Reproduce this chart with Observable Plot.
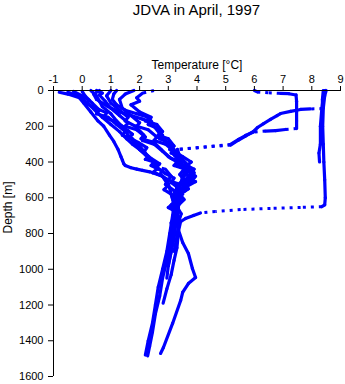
<!DOCTYPE html>
<html><head><meta charset="utf-8">
<script src="https://cdn.jsdelivr.net/npm/d3@7"></script>
<script src="https://cdn.jsdelivr.net/npm/@observablehq/plot@0.6"></script>
<style>
body{margin:0;background:#fff;font-family:"Liberation Sans",Arial,sans-serif;}
#wrap{position:relative;width:345px;height:384px;overflow:hidden;}
#title{position:absolute;top:1px;left:53px;width:287px;text-align:center;font-size:15px;line-height:18px;color:#000;}
#wrap svg{position:absolute;top:0;left:0;}
</style></head><body>
<div id="wrap"><div id="title">JDVA in April, 1997</div></div>
<script>
// Axis domains, tick labels and axis titles
const tempDomain = [-1, 9];
const depthDomain = [0, 1600];
const tempTicks = [-1, 0, 1, 2, 3, 4, 5, 6, 7, 8, 9];
const depthTicks = [0, 200, 400, 600, 800, 1000, 1200, 1400, 1600];
const xLabel = "Temperature [°C]";
const yLabel = "Depth [m]";

// CTD profiles: [temperature °C, depth m]
const c1 = [[-0.8,10],[-0.5,20],[-0.1,40],[0.05,70],[0.3,120],[0.55,170],[0.75,200],[0.95,250],[1.1,285],[1.25,330],[1.35,370],[1.4,390],[1.45,410],[1.5,420],[1.7,432],[1.9,440],[2.1,447],[2.35,455],[2.6,466],[2.8,480],[3.0,520],[3.1,580],[3.2,640],[3.15,700],[3.05,800],[2.95,900],[2.8,1000],[2.65,1100],[2.55,1200],[2.45,1300],[2.3,1400],[2.2,1480]];
const c2 = [[-0.3,5],[0.0,30],[0.25,55],[0.15,75],[0.5,100],[0.85,125],[0.75,150],[1.1,170],[1.4,200],[1.6,225],[1.75,245],[1.65,265],[1.95,290],[2.25,320],[2.15,345],[2.4,380],[2.7,410],[2.6,430],[2.9,465],[3.2,490],[3.1,515],[3.35,545],[3.25,575],[3.4,610],[3.2,650],[3.25,690],[3.1,740],[3.15,790],[3.05,850],[2.95,950],[2.8,1050],[2.7,1150],[2.55,1250],[2.45,1350],[2.35,1430],[2.28,1485]];
const c4 = [[0.5,0],[0.7,15],[0.6,25],[0.8,60],[1.0,100],[1.3,140],[1.6,180],[1.5,200],[1.9,220],[2.2,260],[2.1,280],[2.5,300],[2.8,340],[3.1,380],[3.5,400],[3.3,420],[3.75,445],[3.6,470],[3.9,490],[3.55,520],[3.7,550],[3.4,580],[3.55,610],[3.3,650],[3.45,690],[3.35,740],[3.35,800],[3.3,880],[3.2,950],[3.1,1030],[2.95,1110],[2.82,1190]];
const c5 = [[1.0,0],[0.85,30],[1.0,70],[1.3,110],[1.6,150],[1.5,170],[1.85,200],[2.15,250],[2.05,270],[2.5,290],[2.75,330],[3.0,370],[3.3,400],[3.2,420],[3.6,440],[3.85,470],[3.65,490],[3.95,510],[3.6,540],[3.5,570],[3.25,600],[3.4,630],[3.15,660],[3.3,700],[3.25,760],[3.2,830],[3.1,900],[3.0,980],[2.95,1050]];
const c6 = [[1.8,0],[1.5,20],[1.3,50],[1.4,100],[1.7,140],[2.0,180],[1.9,200],[2.3,220],[2.6,260],[2.5,280],[2.9,300],[3.2,340],[3.5,370],[3.8,400],[3.65,420],[3.9,440],[3.7,480],[3.8,510],[3.5,530],[3.6,560],[3.3,590],[3.4,620],[3.25,650],[3.2,700],[3.15,780],[3.05,850]];
const c7 = [[2.5,0],[2.1,15],[1.9,40],[2.0,60],[1.7,80],[2.0,120],[2.4,150],[2.2,170],[2.6,190],[2.8,230],[2.65,250],[3.0,270],[3.2,310],[3.05,330],[3.3,350],[3.5,390],[3.35,410],[3.6,430],[3.4,470],[3.55,500],[3.3,530],[3.4,560],[3.2,600],[3.25,650]];
const c8 = [[0.0,5],[0.1,30],[0.35,70],[0.6,110],[0.5,130],[0.9,150],[1.2,190],[1.5,230],[1.4,250],[1.75,270],[2.0,310],[2.2,350],[2.35,380],[2.6,410],[2.5,425],[2.9,440],[3.1,480],[3.0,500],[3.3,520],[3.4,560],[3.2,585],[3.3,610],[3.1,640],[3.2,660]];
const c9 = [[0.6,0],[0.4,20],[0.5,50],[0.9,90],[1.3,120],[1.7,140],[2.1,160],[2.4,175],[2.3,190],[2.6,210],[2.8,250],[2.7,270],[3.0,290],[3.2,330],[3.1,350],[3.4,370],[3.6,410],[3.5,430],[3.7,450],[3.5,490],[3.6,515],[3.3,540],[3.2,600],[3.35,630],[3.25,660],[3.2,720],[3.15,800],[3.1,900],[3.0,980]];
const c10 = [[0.3,0],[0.5,30],[0.6,60],[0.7,90],[1.0,130],[1.2,170],[1.45,210],[1.6,250],[1.8,290],[2.0,330],[2.3,370],[2.2,385],[2.5,400],[2.6,440],[2.45,460],[2.8,480],[3.0,530],[2.85,555],[3.1,580],[3.2,630],[3.0,655],[3.3,680],[3.25,740]];
const c11 = [[1.2,0],[1.1,20],[1.05,50],[1.2,80],[1.5,110],[1.9,130],[2.3,150],[2.4,170],[2.5,200],[2.7,240],[2.6,260],[2.9,280],[3.1,320],[3.3,360],[3.5,400],[3.4,415],[3.7,430],[3.8,460],[3.95,480],[3.6,500],[3.75,525],[3.4,550],[3.5,580],[3.3,600],[3.35,660],[3.3,720]];
const c12 = [[-0.5,10],[-0.2,25],[0.0,45],[0.25,80],[0.5,120],[0.7,150],[1.0,190],[1.3,230],[1.55,270],[1.75,300],[2.0,330],[2.2,360],[2.5,400],[2.4,420],[2.8,450],[2.7,470],[3.0,500],[2.9,525],[3.2,560],[3.3,620],[3.1,650],[3.2,680],[3.2,750],[3.15,820],[3.05,900],[3.0,960]];
const w1 = [[6.0,0],[6.1,8],[6.5,13],[6.9,16],[7.2,18],[7.45,25],[7.47,60],[7.47,120],[7.47,170],[7.47,213],[7.08,218],[6.74,224],[6.39,227],[5.97,232],[5.69,252],[5.45,274],[5.17,302],[3.32,330],[3.2,360],[3.4,400],[3.6,440],[3.5,480],[3.4,540],[3.3,600],[3.35,660],[3.3,720]];
const w2 = [[8.4,0],[8.37,50],[8.37,101],[7.95,103],[7.61,106],[7.26,117],[6.91,129],[6.79,140],[6.56,162],[6.32,185],[6.11,207],[5.97,229],[5.69,255],[5.45,277],[5.17,305],[3.32,330],[3.4,370],[3.7,420],[3.9,460],[3.6,500],[3.5,560],[3.4,620],[3.3,680],[3.35,750],[3.3,820],[3.2,900]];
const w3 = [[8.5,0],[8.45,30],[8.4,100],[8.38,200],[8.4,300],[8.42,400],[8.45,500],[8.47,600],[8.45,640],[8.35,650],[7.61,654],[6.56,660],[5.52,666],[4.64,677],[4.12,685],[3.88,699],[3.6,716],[3.43,733],[3.36,783],[3.5,850],[3.7,912],[3.84,996],[3.95,1046],[3.7,1080],[3.5,1130],[3.43,1175],[3.15,1303],[2.83,1438],[2.73,1471]];
const w4 = [[8.45,0],[8.4,40],[8.35,100],[8.3,200],[8.3,300],[8.25,350],[8.27,400]];

const profiles = [c1, c2, c4, c5, c6, c7, c8, c9, c10, c11, c12, w1, w2, w3, w4];

const W = 345, H = 384, mL = 53, mR = 5, mT = 90, mB = 8;
const kx = (W - mL - mR) / (tempDomain[1] - tempDomain[0]);
const ky = (H - mT - mB) / (depthDomain[1] - depthDomain[0]);
const segs = [];
profiles.forEach(p => {
  for (let j = 1; j < p.length; j++) {
    const [t1, d1] = p[j - 1], [t2, d2] = p[j];
    const dx = Math.abs(t2 - t1) * kx, dy = Math.abs(d2 - d1) * ky;
    segs.push({t1, d1, t2, d2, sparse: dx > 10.5 && dx > 4 * dy});
  }
});

const chart = Plot.plot({
  width: W, height: H,
  marginLeft: mL, marginRight: mR, marginTop: mT, marginBottom: mB,
  style: {fontFamily: "'Liberation Sans', Arial, sans-serif", fontSize: "11px", background: "transparent", color: "black"},
  x: {domain: tempDomain},
  y: {domain: depthDomain, reverse: true},
  marks: [
    Plot.link(segs.filter(s => !s.sparse), {x1: "t1", y1: "d1", x2: "t2", y2: "d2", stroke: "#0000ff", strokeWidth: 3.2, strokeLinecap: "round", strokeLinejoin: "round"}),
    Plot.link(segs.filter(s => s.sparse), {x1: "t1", y1: "d1", x2: "t2", y2: "d2", stroke: "#0000ff", strokeWidth: 3, strokeDasharray: "3,5"}),
    Plot.ruleY([depthDomain[0]], {stroke: "black", strokeWidth: 1}),
    Plot.ruleX([tempDomain[0]], {stroke: "black", strokeWidth: 1}),
    Plot.axisX({anchor: "top", ticks: tempTicks, tickSize: 5, tickPadding: 3, tickFormat: d => String(d), label: null, fontSize: 11}),
    Plot.axisY({anchor: "left", ticks: depthTicks, tickSize: 5, tickPadding: 5, tickFormat: d => String(d), label: null, fontSize: 11}),
    Plot.text([xLabel], {frameAnchor: "top", dy: -30, fontSize: 12, text: d => d}),
    Plot.text([yLabel], {frameAnchor: "left", dx: -45, rotate: -90, fontSize: 12, text: d => d})
  ]
});
document.getElementById("wrap").appendChild(chart);
</script>
</body></html>
